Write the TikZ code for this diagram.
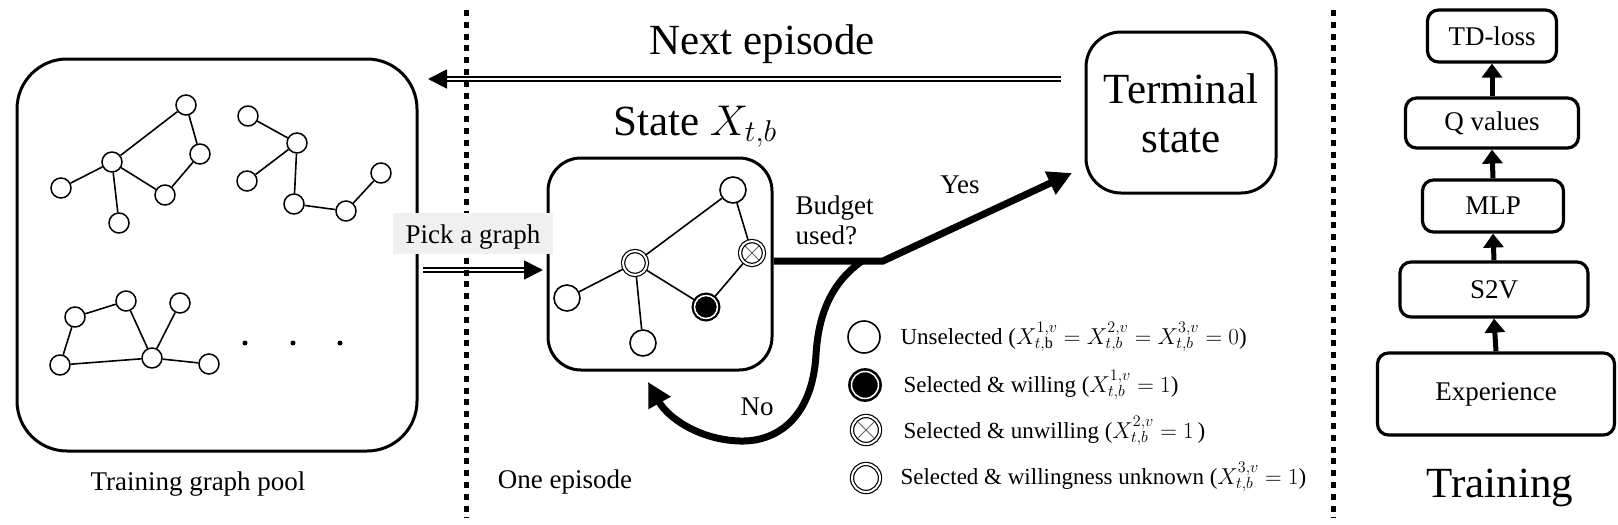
\RequirePackage{fix-cm}
\documentclass[tikz,border=0pt]{standalone}
\usepackage{fontspec}
\setmainfont{Liberation Serif}
\usetikzlibrary{arrows.meta}
\pgfdeclarelayer{bg}
\pgfsetlayers{bg,main}
\begin{document}
\begin{tikzpicture}[x=1pt,y=-1pt,
  bigfont/.style={font=\fontsize{43}{50}\selectfont},
  midfont/.style={font=\fontsize{27}{31}\selectfont},
  legfont/.style={font=\fontsize{23}{27}\selectfont},
  rbox/.style={draw, line width=3pt, rounded corners=#1, inner sep=0pt},
  tbox/.style={draw, line width=3.2pt, rounded corners=11pt, inner sep=0pt, font=\fontsize{27}{31}\selectfont},
  gedge/.style={line width=1.6pt},
  pnode/.style={circle, draw, fill=white, line width=1.5pt, minimum size=20pt, inner sep=0pt},
  plainS/.style={circle, draw, fill=white, line width=1.6pt, minimum size=#1, inner sep=0pt},
  plainS/.default=26pt,
  dblS/.style={circle, draw, fill=white, line width=1.2pt, double=white, double distance=2pt, minimum size=#1, inner sep=0pt},
  dblS/.default=24pt,
  blackS/.style={circle, draw, fill=black, line width=2.2pt, double=white, double distance=1.5pt, minimum size=#1, inner sep=0pt},
  blackS/.default=23pt,
  crossS/.style={dblS=#1, path picture={\draw[black!60, line width=0.9pt]
      (path picture bounding box.north west) -- (path picture bounding box.south east)
      (path picture bounding box.north east) -- (path picture bounding box.south west);}},
  crossS/.default=24pt,
  dblarrow/.style={line width=1.8pt, double=white, double distance=2.6pt, -{Triangle[length=19pt,width=19pt]}},
  thickarrow/.style={line width=7pt, -{Triangle[length=24pt,width=24pt]}},
  tarrow/.style={line width=5pt, -{Triangle[length=14pt,width=20pt]}},
  dotline/.style={line width=5pt, dash pattern=on 6pt off 5.8pt},
  dotnode/.style={circle, fill=black, minimum size=5pt, inner sep=0pt}
]
\useasboundingbox (0,0) rectangle (1618,525);

% ---------- boxes ----------
\node[rbox=50pt, minimum width=400pt, minimum height=392pt] (pool) at (217,255) {};
\node[rbox=33pt, minimum width=224pt, minimum height=212pt] (sbox) at (660,264) {};
\node[rbox=35pt, minimum width=190pt, minimum height=161pt] (term) at (1181,112.5) {};

% ---------- pool graph 1 ----------
\node[pnode] (A) at (186,105) {};
\node[pnode] (B) at (200,154) {};
\node[pnode] (C) at (112,162) {};
\node[pnode] (D) at (61,188) {};
\node[pnode] (E) at (119,223) {};
\node[pnode] (F) at (165,195) {};
% graph 2
\node[pnode] (G) at (248,116) {};
\node[pnode] (H) at (297,143) {};
\node[pnode] (I) at (247,181) {};
\node[pnode] (J) at (294,204) {};
\node[pnode] (K) at (346,211) {};
\node[pnode] (L) at (381,173) {};
% graph 3
\node[pnode] (M) at (75,317) {};
\node[pnode] (N) at (126,301) {};
\node[pnode] (O) at (180,303) {};
\node[pnode] (P) at (60,365) {};
\node[pnode] (Q) at (152,358) {};
\node[pnode] (R) at (209,364) {};
\node[dotnode] (dot1) at (245,343) {};
\node[dotnode] (dot2) at (293,343) {};
\node[dotnode] (dot3) at (340,343) {};

% ---------- state graph ----------
\node[plainS] (s1) at (733,190) {};
\node[crossS] (s2) at (752,253) {};
\node[dblS] (s3) at (635,263) {};
\node[plainS] (s4) at (567,298) {};
\node[blackS] (s5) at (706,307) {};
\node[plainS] (s6) at (643,343) {};

\begin{pgfonlayer}{bg}
  \draw[gedge] (C) -- (A) (A) -- (B) (B) -- (F) (F) -- (C) (C) -- (D) (C) -- (E);
  \draw[gedge] (G) -- (H) (H) -- (I) (H) -- (J) (J) -- (K) (K) -- (L);
  \draw[gedge] (M) -- (N) (N) -- (Q) (O) -- (Q) (M) -- (P) (P) -- (Q) (Q) -- (R);
  \draw[gedge] (s3) -- (s1) (s1) -- (s2) (s2) -- (s5) (s5) -- (s3) (s3) -- (s4) (s3) -- (s6);
\end{pgfonlayer}

% ---------- legend ----------
\node[plainS=32pt] (l1) at (864,337) {};
\node[blackS=27pt, line width=2.6pt] (l2) at (865,385) {};
\node[crossS=28pt] (l3) at (866,430) {};
\node[dblS=28pt] (l4) at (866,478) {};
\node[legfont, anchor=base west] (t1) at (897,344) {Unselected ($X^{1,v}_{t,\mathrm{b}} = X^{2,v}_{t,b} = X^{3,v}_{t,b} = 0$)};
\node[legfont, anchor=base west] (t2) at (900,392) {Selected \& willing ($X^{1,v}_{t,b} = 1$)};
\node[legfont, anchor=base west] (t3) at (900,438) {Selected \& unwilling ($X^{2,v}_{t,b} = 1$\,)};
\node[legfont, anchor=base west] (t4) at (897,484) {Selected \& willingness unknown ($X^{3,v}_{t,b} = 1$)};

% ---------- arrows ----------
\coordinate (neS) at (1061,79);
\coordinate (neE) at (428,79);
\draw[dblarrow] (neS) -- (neE);
\coordinate (pkS) at (423,270);
\coordinate (pkE) at (543,270);
\draw[dblarrow] (pkS) -- (pkE);

\coordinate (kink) at (883,261);
\coordinate (ytip) at (1072,173);
\draw[thickarrow] (sbox.east |- kink) -- (kink) -- (ytip);
\coordinate (br) at (862,261);
\coordinate (notip) at (648,382);
\draw[thickarrow] (br) .. controls (828,285) and (818,320) .. (816,355)
   .. controls (812,420) and (775,442) .. (740,441)
   .. controls (700,440) and (668,418) .. (notip);

% ---------- training column ----------
\node[tbox, minimum width=129pt, minimum height=52pt] (td) at (1492,36) {TD-loss};
\node[tbox, minimum width=173pt, minimum height=50pt] (qv) at (1492,123) {Q values};
\node[tbox, minimum width=141pt, minimum height=52pt] (mlp) at (1493,206) {MLP};
\node[tbox, minimum width=188pt, minimum height=55pt] (s2v) at (1494,289.5) {S2V};
\node[tbox, minimum width=237pt, minimum height=82pt] (exp) at (1496,394) {Experience};
\draw[tarrow] (exp.north) -- (s2v.south);
\draw[tarrow] (s2v.north) -- (mlp.south);
\draw[tarrow] (mlp.north) -- (qv.south);
\draw[tarrow] (qv.north) -- (td.south);

% ---------- dotted separators ----------
\coordinate (d1a) at (466,10);
\coordinate (d1b) at (466,518);
\coordinate (d2a) at (1333,10);
\coordinate (d2b) at (1333,518);
\draw[dotline] (d1a) -- (d1b);
\draw[dotline] (d2a) -- (d2b);

% ---------- labels ----------
\node[fill=black!6, minimum width=160pt, minimum height=41pt, inner sep=0pt] (pickbg) at (473,233.5) {};
\node[midfont, anchor=base] (pick) at (473,243) {Pick a graph};
\node[bigfont, anchor=base] (termA) at (1181,103) {Terminal};
\node[bigfont, anchor=base] (termB) at (1181,152) {state};
\node[bigfont, anchor=base] (stlab) at (695,135) {State $X_{t,b}$};
\node[bigfont, anchor=base] (nelab) at (762,54) {Next episode};
\node[midfont, anchor=base] (poollab) at (198,490) {Training graph pool};
\node[midfont, anchor=base] (onelab) at (565,488) {One episode};
\node[bigfont, anchor=base] (trlab) at (1500,497) {Training};
\node[midfont, anchor=base west] (bud1) at (792,214) {Budget};
\node[midfont, anchor=base west] (bud2) at (792,244) {used?};
\node[midfont, anchor=base] (yes) at (960,193) {Yes};
\node[midfont, anchor=base] (no) at (757,415) {No};
\end{tikzpicture}
\end{document}
